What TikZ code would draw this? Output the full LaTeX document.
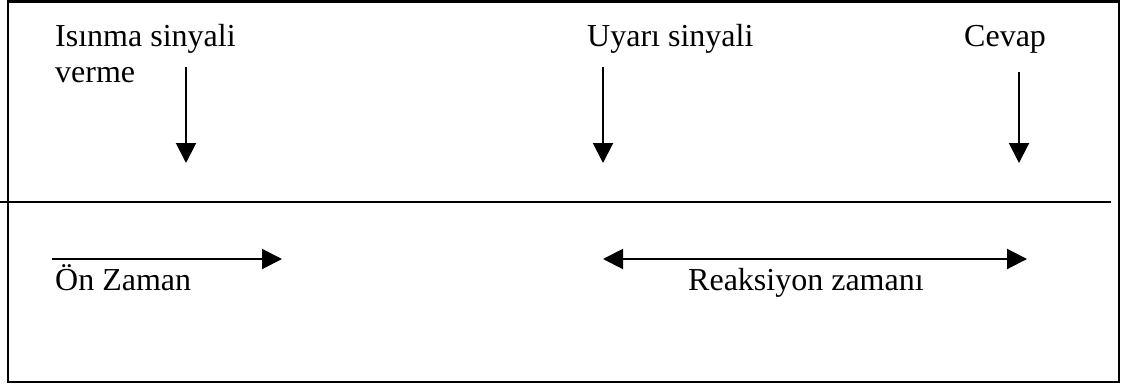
\documentclass[tikz,border=0pt]{standalone}
\usepackage{fontspec}
\setmainfont{Liberation Serif}
\usetikzlibrary{arrows.meta}
\begin{document}
\begin{tikzpicture}[x=1pt,y=-1pt,
  lbl/.style={anchor=base west,inner sep=0pt,font=\fontsize{32}{40}\selectfont,align=left},
  arr/.style={line width=2pt,-{Triangle[length=20pt,width=20pt]}},
  darr/.style={line width=2pt,{Triangle[length=20pt,width=20pt]}-{Triangle[length=20pt,width=20pt]}}]
\useasboundingbox (0,0) rectangle (1123,385);
% frame and time line
\draw[line width=2.5pt] (8,1.5) rectangle (1119,382);
\coordinate (tl0) at (0,202);
\coordinate (tl1) at (1111,202);
\draw[line width=1.5pt] (tl0) -- (tl1);
% labels
\node[lbl] (isinma) at (55,47) {Isınma sinyali};
\node[lbl] (verme) at (55,83) {verme};
\node[lbl] (uyari) at (587,47) {Uyarı sinyali};
\node[lbl] (cevap) at (964,47) {Cevap};
\node[lbl] (on) at (55,290) {Ön Zaman};
\node[lbl] (reak) at (688,290) {Reaksiyon zamanı};
% arrow end points
\coordinate (a1s) at (186,67);  \coordinate (a1e) at (186,163);
\coordinate (a2s) at (603,67);  \coordinate (a2e) at (603,163);
\coordinate (a3s) at (1019,72); \coordinate (a3e) at (1019,163);
\coordinate (ons) at (52,259);  \coordinate (one) at (282,259);
\coordinate (rs) at (603,259);  \coordinate (re) at (1027,259);
\draw[arr] (a1s) -- (a1e);
\draw[arr] (a2s) -- (a2e);
\draw[arr] (a3s) -- (a3e);
\draw[arr] (ons) -- (one);
\draw[darr] (rs) -- (re);
\end{tikzpicture}
\end{document}
